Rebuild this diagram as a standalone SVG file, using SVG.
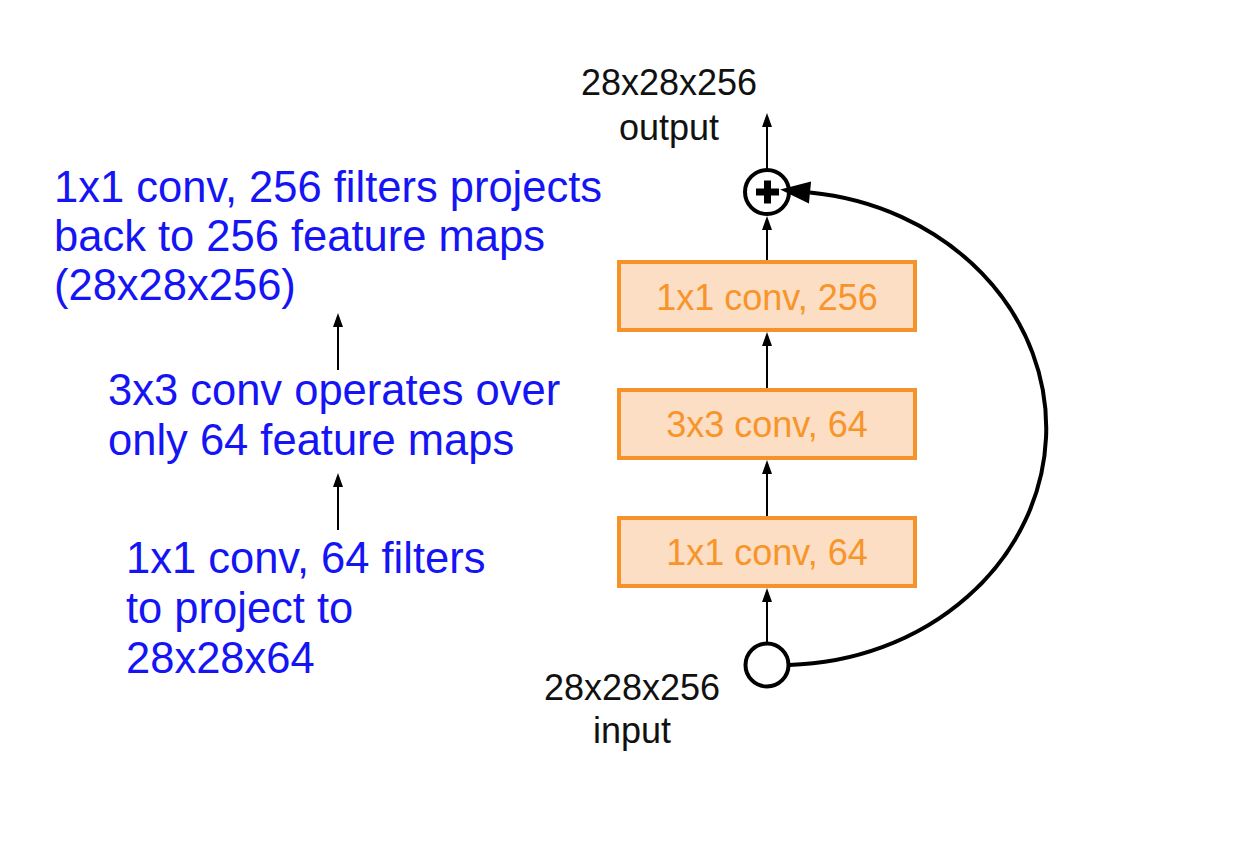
<svg xmlns="http://www.w3.org/2000/svg" width="1244" height="842" viewBox="0 0 1244 842">
<style>
  .blue { font-family: "Liberation Sans", Arial, sans-serif; font-size: 43.5px; fill: #1414F5; }
  .blk { font-family: "Liberation Sans", Arial, sans-serif; font-size: 36px; fill: #111; text-anchor: middle; }
  .box rect { fill: #FCDEC4; stroke: #F7912A; stroke-width: 4; }
  .box text { font-family: "Liberation Sans", Arial, sans-serif; font-size: 36px; fill: #F7942A; text-anchor: middle; }
  .arr { stroke: #000; stroke-width: 2; fill: none; marker-end: url(#ah); }
  .node circle { fill: #fff; stroke: #000; stroke-width: 4; }
</style>
<defs>
  <marker id="ah" markerUnits="userSpaceOnUse" markerWidth="14" markerHeight="10" refX="0" refY="5" orient="auto" overflow="visible">
    <path d="M0,0 L14,5 L0,10 z" fill="#000"/>
  </marker>
  <marker id="bigah" markerUnits="userSpaceOnUse" markerWidth="30" markerHeight="22" refX="0" refY="11" orient="auto" overflow="visible">
    <path d="M0,0 L30,11 L0,22 z" fill="#000"/>
  </marker>
</defs>
<rect width="1244" height="842" fill="#fff"/>

<g id="note-top">
  <text class="blue" x="54" y="202">1x1 conv, 256 filters projects</text>
  <text class="blue" x="54" y="251">back to 256 feature maps</text>
  <text class="blue" x="54" y="300">(28x28x256)</text>
</g>
<g id="note-mid">
  <text class="blue" x="108" y="405">3x3 conv operates over</text>
  <text class="blue" x="108" y="455">only 64 feature maps</text>
</g>
<g id="note-bottom">
  <text class="blue" x="126" y="573">1x1 conv, 64 filters</text>
  <text class="blue" x="126" y="623">to project to</text>
  <text class="blue" x="126" y="673">28x28x64</text>
</g>

<g id="output-label">
  <text class="blk" x="669" y="95">28x28x256</text>
  <text class="blk" x="669" y="140">output</text>
</g>
<g id="input-label">
  <text class="blk" x="632" y="700">28x28x256</text>
  <text class="blk" x="632" y="743">input</text>
</g>

<g id="conv3" class="box">
  <rect x="619" y="262" width="296" height="68"/>
  <text x="767" y="310">1x1 conv, 256</text>
</g>
<g id="conv2" class="box">
  <rect x="619" y="390" width="296" height="68"/>
  <text x="767" y="437">3x3 conv, 64</text>
</g>
<g id="conv1" class="box">
  <rect x="619" y="518" width="296" height="68"/>
  <text x="767" y="565">1x1 conv, 64</text>
</g>

<g id="sum" class="node">
  <circle cx="767" cy="192" r="22"/>
  <rect x="756" y="188.5" width="23" height="7" fill="#000"/>
  <rect x="764" y="180.5" width="7" height="23" fill="#000"/>
</g>
<g id="input" class="node">
  <circle cx="767" cy="665" r="21.5"/>
</g>

<g id="connectors">
  <line class="arr" x1="338" y1="370" x2="338" y2="327"/>
  <line class="arr" x1="338" y1="530" x2="338" y2="487"/>
  <line class="arr" x1="767" y1="643" x2="767" y2="602"/>
  <line class="arr" x1="767" y1="516" x2="767" y2="474"/>
  <line class="arr" x1="767" y1="388" x2="767" y2="346"/>
  <line class="arr" x1="767" y1="260" x2="767" y2="230"/>
  <line class="arr" x1="767" y1="170" x2="767" y2="127"/>
  <path d="M789,665 A265,237 0 0 0 810,192.5" fill="none" stroke="#000" stroke-width="4" marker-end="url(#bigah)"/>
</g>
</svg>
